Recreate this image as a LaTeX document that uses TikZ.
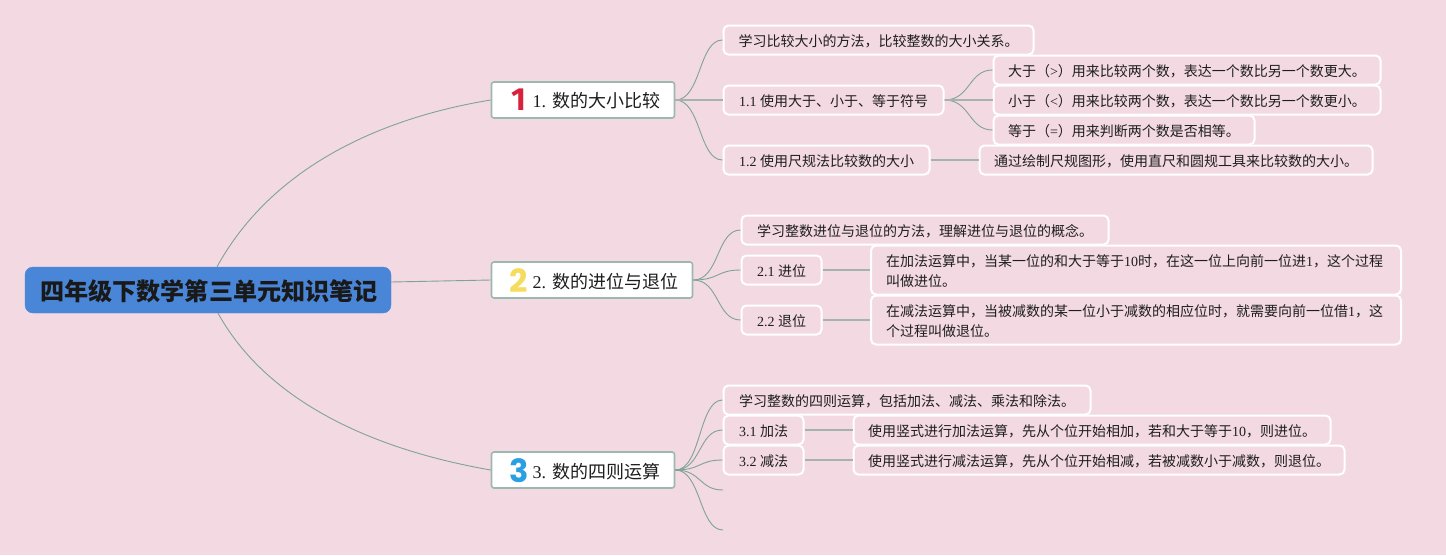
\documentclass[tikz,border=0pt]{standalone}
\usepackage{fontspec}
\setmainfont{Liberation Serif}
\newfontfamily\cjk{Noto Sans CJK SC}
\newfontfamily\ltn{Liberation Serif}
\newfontfamily\iconfont{Poppins}
\newfontfamily\iconfontb{Fira Sans}
\definecolor{bgpink}{HTML}{F3D9E1}
\definecolor{rootblue}{HTML}{4A86D8}
\definecolor{branchline}{HTML}{9DB8B0}
\definecolor{curveline}{HTML}{7FA398}
\definecolor{straightline}{HTML}{A5B3AC}
\definecolor{inkdark}{HTML}{1E1E1E}
\definecolor{iconred}{HTML}{D9213C}
\definecolor{iconyellow}{HTML}{F6DC5C}
\definecolor{iconblue}{HTML}{2A9FE2}
\tikzset{
  rootbox/.style={draw=rootblue,fill=rootblue,rounded corners=8pt,inner sep=0pt,minimum width=366pt,minimum height=46pt,text=black!90!white,text height=22pt,text depth=2pt,font=\fontsize{24.1}{28}\selectfont\cjk\bfseries},
  branchbox/.style={draw=branchline,line width=1.6pt,fill=white,rounded corners=2.5pt,inner sep=0pt,minimum height=36pt},
  branchtext/.style={anchor=west,inner sep=0pt,text=inkdark,font=\fontsize{18}{22}\selectfont},
  leafbox/.style={draw=white,line width=2pt,rounded corners=5pt,inner sep=0pt,minimum height=29pt,text=inkdark,text height=15pt,text depth=2pt,font=\fontsize{14}{20}\selectfont},
  tallbox/.style={leafbox,minimum height=49pt,align=left,text width=500pt,text height=15pt,text depth=23pt},
  curvelink/.style={draw=curveline,line width=0.9pt},
  straightlink/.style={draw=straightline,line width=1.6pt},
  iconmark/.style={inner sep=0pt,font=\fontsize{32}{32}\selectfont\iconfont\bfseries},
  iconone/.style={inner sep=0pt,font=\fontsize{32}{32}\selectfont\iconfontb\bfseries},
}
\begin{document}
\begin{tikzpicture}[x=1pt,y=-1pt]
\useasboundingbox (0,0) rectangle (1446,555);
\fill[bgpink] (0,0) rectangle (1446,555);
\node[rootbox] (root) at (208,290) {\hspace*{2pt}四年级下数学第三单元知识笔记};
\node[branchbox,minimum width=183pt] (b1) at (583,100) {};
\node[branchbox,minimum width=201pt] (b2) at (592,280) {};
\node[branchbox,minimum width=183pt] (b3) at (583,470) {};
\node[branchtext] (t1) at (532.5,100.5) {\ltn 1. \cjk 数的大小比较};
\node[branchtext] (t2) at (532.5,281.5) {\ltn 2. \cjk 数的进位与退位};
\node[branchtext] (t3) at (532.5,471.5) {\ltn 3. \cjk 数的四则运算};
\node[iconone,text=iconred] (i1) at (519,100) {1};
\node[iconmark,text=iconyellow] (i2) at (518.5,281) {2};
\node[iconmark,text=iconblue] (i3) at (519,470.5) {3};
% branch 1
\node[leafbox,minimum width=310pt] (a0) at (878.5,40) {\cjk 学习比较大小的方法，比较整数的大小关系。};
\node[leafbox,minimum width=220pt] (a1) at (833.5,100) {\ltn 1.1 \cjk 使用大于、小于、等于符号};
\node[leafbox,minimum width=206pt] (a2) at (826.5,160) {\ltn 1.2 \cjk 使用尺规法比较数的大小};
\node[leafbox,minimum width=387pt] (a11) at (1187,70) {\cjk 大于（\ltn >\cjk ）用来比较两个数，表达一个数比另一个数更大。};
\node[leafbox,minimum width=387pt] (a12) at (1187,100) {\cjk 小于（\ltn <\cjk ）用来比较两个数，表达一个数比另一个数更小。};
\node[leafbox,minimum width=261pt] (a13) at (1124,130) {\cjk 等于（\ltn =\cjk ）用来判断两个数是否相等。};
\node[leafbox,minimum width=393pt] (a21) at (1176,160) {\cjk 通过绘制尺规图形，使用直尺和圆规工具来比较数的大小。};
% branch 2
\node[leafbox,minimum width=367pt] (c0) at (925,230) {\cjk 学习整数进位与退位的方法，理解进位与退位的概念。};
\node[leafbox,minimum width=80pt] (c1) at (781.5,270) {\ltn 2.1 \cjk 进位};
\node[leafbox,minimum width=80pt] (c2) at (781.5,320) {\ltn 2.2 \cjk 退位};
\node[tallbox,minimum width=530pt] (c11) at (1136,270) {\cjk 在加法运算中，当某一位的和大于等于\ltn 10\cjk 时，在这一位上向前一位进\ltn 1\cjk ，这个过程\\\cjk 叫做进位。};
\node[tallbox,minimum width=530pt] (c21) at (1136,320) {\cjk 在减法运算中，当被减数的某一位小于减数的相应位时，就需要向前一位借\ltn 1\cjk ，这\\\cjk 个过程叫做退位。};
% branch 3
\node[leafbox,minimum width=367pt] (d0) at (907,400) {\cjk 学习整数的四则运算，包括加法、减法、乘法和除法。};
\node[leafbox,minimum width=80pt] (d1) at (763.5,430) {\ltn 3.1 \cjk 加法};
\node[leafbox,minimum width=80pt] (d2) at (763.5,460) {\ltn 3.2 \cjk 减法};
\node[leafbox,minimum width=477pt] (d11) at (1092,430) {\cjk 使用竖式进行加法运算，先从个位开始相加，若和大于等于\ltn 10\cjk ，则进位。};
\node[leafbox,minimum width=491pt] (d21) at (1099,460) {\cjk 使用竖式进行减法运算，先从个位开始相减，若被减数小于减数，则退位。};
\coordinate (d3) at (723,490);
\coordinate (d4) at (723,530);
% connectors
\draw[curvelink] ([xshift=9pt]root.north) .. controls +(55,-100) and +(-110,18) .. (b1.west);
\draw[curvelink] ([xshift=10pt]root.south) .. controls +(50,90) and +(-115,-20) .. (b3.west);
\draw[curvelink] ([yshift=8pt]root.east) -- (b2.west);
\foreach \k in {a0,a2}{\draw[curvelink] (b1.east) .. controls +(26,0) and +(-24,0) .. (\k.west);}
\draw[straightlink] (b1.east) -- (a1.west);
\foreach \k in {a11,a13}{\draw[curvelink] (a1.east) .. controls +(26,0) and +(-24,0) .. (\k.west);}
\draw[straightlink] (a1.east) -- (a12.west);
\draw[straightlink] (a2.east) -- (a21.west);
\foreach \k in {c0,c1,c2}{\draw[curvelink] (b2.east) .. controls +(26,0) and +(-24,0) .. (\k.west);}
\draw[straightlink] (c1.east) -- (c11.west);
\draw[straightlink] (c2.east) -- (c21.west);
\foreach \k in {d0,d1,d2}{\draw[curvelink] (b3.east) .. controls +(26,0) and +(-24,0) .. (\k.west);}
\foreach \k in {d3,d4}{\draw[curvelink] (b3.east) .. controls +(26,0) and +(-24,0) .. (\k);}
\draw[straightlink] (d1.east) -- (d11.west);
\draw[straightlink] (d2.east) -- (d21.west);
\end{tikzpicture}
\end{document}
